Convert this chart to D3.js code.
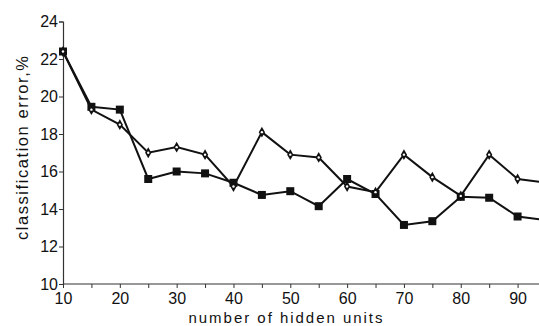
<!DOCTYPE html>
<html>
<head>
<meta charset="utf-8">
<script src="https://cdn.jsdelivr.net/npm/d3@7"></script>
<style>
  body { margin: 0; background: #fff; }
  text { font-family: "Liberation Sans", Arial, sans-serif; fill: #111; }
</style>
</head>
<body>
<div class="container-chart"></div>
<script>
// hidden units on the x axis
const hiddenUnits = [10, 15, 20, 25, 30, 35, 40, 45, 50, 55, 60, 65, 70, 75, 80, 85, 90, 95];
// diamond series
const errDiamond = [22.4, 19.3, 18.5, 17.0, 17.3, 16.9, 15.2, 18.1, 16.9, 16.75, 15.2, 14.9, 16.9, 15.7, 14.7, 16.9, 15.6, 15.4];
// square series
const errSquare = [22.4, 19.45, 19.3, 15.6, 16.0, 15.9, 15.4, 14.75, 14.95, 14.15, 15.6, 14.8, 13.15, 13.35, 14.65, 14.6, 13.6, 13.4];
const xTicks = [10, 20, 30, 40, 50, 60, 70, 80, 90];
const yTicks = [10, 12, 14, 16, 18, 20, 22, 24];

const W = 539, H = 326;
const x = d3.scaleLinear().domain([10, 95]).range([63, 546]);
const y = d3.scaleLinear().domain([10, 24]).range([284, 21.5]);

const svg = d3.select(".container-chart").append("svg")
    .attr("width", W).attr("height", H);

svg.append("defs").append("clipPath").attr("id", "clip")
  .append("rect").attr("x", 0).attr("y", 0).attr("width", W).attr("height", H);

// axes
const xAxis = svg.append("g")
    .attr("transform", `translate(0,${y(10)})`)
    .call(d3.axisBottom(x).tickValues(d3.range(10, 95, 5))
        .tickSize(4).tickFormat(d => xTicks.includes(d) ? d : ""));
const yAxis = svg.append("g")
    .attr("transform", `translate(${x(10)},0)`)
    .call(d3.axisLeft(y).tickValues(yTicks).tickSize(4));

[xAxis, yAxis].forEach(g => {
  g.select(".domain").attr("stroke", "#333").attr("stroke-width", 1.2);
  g.selectAll(".tick line").attr("stroke", "#333");
  g.selectAll(".tick text").style("font-size", "16px").attr("fill", "#111");
});
xAxis.select(".domain").attr("d", `M${x(10)},0H${W}`);
xAxis.selectAll(".tick text").attr("y", 9).attr("dy", "0.71em");
yAxis.selectAll(".tick text").attr("x", -5);

// labels
svg.append("text")
    .attr("x", 285.5).attr("y", 323)
    .attr("text-anchor", "middle")
    .attr("textLength", 194).attr("lengthAdjust", "spacing")
    .style("font-size", "15px")
    .text("number of hidden units");
svg.append("text")
    .attr("transform", `translate(28,148) rotate(-90)`)
    .attr("text-anchor", "middle")
    .attr("textLength", 184).attr("lengthAdjust", "spacing")
    .style("font-size", "16.5px")
    .text("classification error,%");

const line = d3.line().x(d => x(d[0])).y(d => y(d[1]));
const plot = svg.append("g").attr("clip-path", "url(#clip)");

const dDiamond = hiddenUnits.map((h, i) => [h, errDiamond[i]]);
const dSquare = hiddenUnits.map((h, i) => [h, errSquare[i]]);

[dDiamond, dSquare].forEach(d => {
  plot.append("path").datum(d)
      .attr("d", line)
      .attr("fill", "none")
      .attr("stroke", "#111")
      .attr("stroke-width", 2);
});

plot.selectAll(".sq").data(dSquare).enter().append("rect")
    .attr("class", "sq")
    .attr("x", d => x(d[0]) - 4).attr("y", d => y(d[1]) - 4)
    .attr("width", 8).attr("height", 8)
    .attr("fill", "#111");

plot.selectAll(".dm").data(dDiamond).enter().append("path")
    .attr("class", "dm")
    .attr("transform", d => `translate(${x(d[0])},${y(d[1])})`)
    .attr("d", d3.symbol().type(d3.symbolDiamond).size(34))
    .attr("fill", "#111");
plot.selectAll(".dmc").data(dDiamond).enter().append("circle")
    .attr("class", "dmc")
    .attr("cx", d => x(d[0])).attr("cy", d => y(d[1]))
    .attr("r", 1.2)
    .attr("fill", "#fff");
</script>
</body>
</html>
